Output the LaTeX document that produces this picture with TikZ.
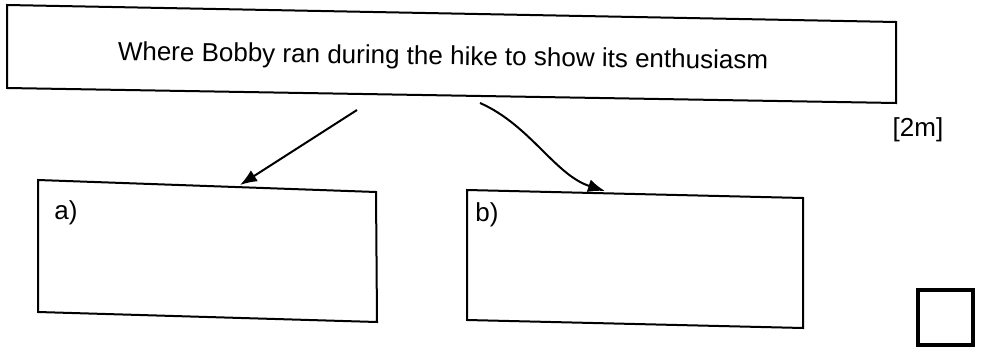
\documentclass[tikz,border=0pt]{standalone}
\usepackage{fontspec}
\setmainfont{Liberation Sans}
\usetikzlibrary{arrows.meta}
\tikzset{
  boxline/.style={line width=2pt, line join=miter},
  arrowline/.style={line width=2pt, -{Latex[length=17pt,width=13pt]}},
  lbl/.style={inner sep=0pt, font=\fontsize{26}{30}\selectfont},
  markbox/.style={line width=4pt}
}
\begin{document}
\begin{tikzpicture}[x=1pt,y=-1pt]
\useasboundingbox (0,0) rectangle (995,356);
% top box
\coordinate (t1) at (7,5);
\coordinate (t2) at (896,22);
\coordinate (t3) at (896,103);
\coordinate (t4) at (7,88);
\draw[boxline] (t1) -- (t2) -- (t3) -- (t4) -- cycle;
\node[lbl, rotate=-0.8] (title) at (443,58) {Where Bobby ran during the hike to show its enthusiasm};
% box a
\coordinate (a1) at (38,180);
\coordinate (a2) at (376,192);
\coordinate (a3) at (377,322);
\coordinate (a4) at (38,312);
\draw[boxline] (a1) -- (a2) -- (a3) -- (a4) -- cycle;
\node[lbl] (la) at (66,213) {a)};
% box b
\coordinate (b1) at (467,190);
\coordinate (b2) at (803,198);
\coordinate (b3) at (803,328);
\coordinate (b4) at (467,320);
\draw[boxline] (b1) -- (b2) -- (b3) -- (b4) -- cycle;
\node[lbl] (lb) at (487,215) {b)};
% arrows
\coordinate (s1) at (357,110);
\coordinate (e1) at (240,185);
\coordinate (s2) at (480,103);
\coordinate (e2) at (605,191);
\draw[arrowline] (s1) -- (e1);
\draw[arrowline] (s2) .. controls (530,125) and (555,175) .. (e2);
% marks
\node[lbl] (marks) at (918,130) {[2m]};
\draw[markbox] (918,290) rectangle (973,345);
\end{tikzpicture}
\end{document}
